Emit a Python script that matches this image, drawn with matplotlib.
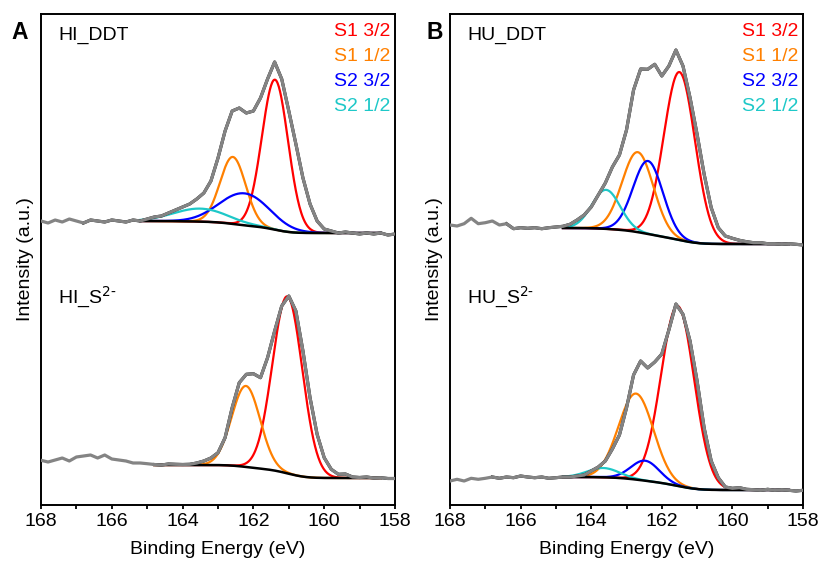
import numpy as np
import matplotlib
matplotlib.use("Agg")
import matplotlib.pyplot as plt
from matplotlib.ticker import MultipleLocator

plt.rcParams['font.family'] = ['Liberation Sans', 'DejaVu Sans']

# binding energy grid of the measured spectra (eV), 168 -> 158 in 0.2 steps
energy = np.linspace(168, 158, 51)

hi_ddt_raw = [284, 282, 285, 283, 286, 284, 282, 285, 284, 283,
              285, 284, 283, 285, 284, 286, 288, 289, 292, 295,
              298, 301, 306, 312, 324, 347, 374, 394, 397, 392,
              394, 407, 426, 443, 426, 394, 361, 327, 301, 284,
              276, 274, 272, 273, 272, 271, 272, 271, 272, 270, 271]
hi_s2_raw = [44.7, 43, 45, 47, 44, 48, 49, 50, 47, 50,
             46, 45, 44, 42, 42, 41.3, 40.5, 40, 41, 40.7,
             40.5, 40.7, 42, 44, 47, 52.3, 67.3, 97.3, 122.3, 130.7,
             131.3, 127.3, 147.3, 174, 199, 209, 194, 154, 107.3, 70.7,
             47.3, 35.7, 30.7, 31, 28, 27.5, 28, 27, 27.3, 26.5, 26.5]
hu_ddt_raw = [280, 279, 281.3, 286.7, 281.3, 282.3, 284, 280, 281.3, 276.3,
              277.3, 276.7, 277.3, 276.3, 277.3, 278, 278.7, 280.7, 285, 290,
              298, 310, 322, 338, 350, 375, 415, 436, 435.7, 440.7,
              429, 439, 455, 439, 407.3, 370.7, 330.7, 297.3, 277.3, 269,
              266.7, 264.7, 263.3, 262.3, 262.3, 261.3, 261.3, 260.7, 261.3, 260.7, 260]
hu_s2_raw = [24, 25.7, 24, 26.7, 25.7, 26.7, 28, 26.7, 28, 27.3,
             29, 28, 27.3, 28, 26.7, 27.3, 28, 28, 29, 30,
             34, 38, 44, 56, 70, 97, 130, 144, 137, 143,
             151, 175, 201, 190.7, 164, 124, 77, 44, 27.3, 18,
             16.7, 17.3, 15.7, 15.3, 14.7, 15.7, 14.7, 15.3, 14.7, 14, 14.7]

# fitted components: centre (eV), height above background, FWHM (eV)
peak_names = ['S1 3/2', 'S1 1/2', 'S2 3/2', 'S2 1/2']
hi_ddt_center = [161.39, 162.58, 162.25, 163.50]
hi_ddt_height = [150, 67, 32, 13]
hi_ddt_fwhm = [0.87, 0.85, 1.65, 1.79]
hi_s2_center = [161.04, 162.21]
hi_s2_height = [177, 81]
hi_s2_fwhm = [0.99, 0.94]
hu_ddt_center = [161.50, 162.68, 162.39, 163.58]
hu_ddt_height = [168, 80, 73, 39]
hu_ddt_fwhm = [1.04, 1.04, 0.99, 0.94]
hu_s2_center = [161.55, 162.73, 162.47, 163.66]
hu_s2_height = [180, 86, 20, 9.3]
hu_s2_fwhm = [1.1, 1.16, 0.94, 1.06]

# Shirley background levels (high BE side, low BE side)
hi_ddt_bg = (284, 272)
hi_s2_bg = (40, 27)
hu_ddt_bg = (277, 261)
hu_s2_bg = (28, 15)

peak_colors = ['#ff0000', '#ff8000', '#0000ff', '#1ec8c8']
gray = '#848484'


def draw_spectrum(ax, raw, centers, heights, fwhms, bg, black_from, fit_from):
    raw = np.asarray(raw)
    e = np.linspace(fit_from, 158.4, 400)
    comps = []
    for c, h, w in zip(centers, heights, fwhms):
        s = w / 2.3548
        comps.append(h * np.exp(-0.5 * ((e - c) / s) ** 2))
    total = np.sum(comps, axis=0)
    below = np.cumsum(total[::-1])[::-1]
    back = bg[1] + (bg[0] - bg[1]) * below / below[0]
    for comp, col in zip(comps, peak_colors):
        ax.plot(e, back + comp, color=col, lw=1.6, zorder=2)
    ax.plot(e, back, color='black', lw=1.8, zorder=3)
    m = energy <= black_from + 1e-6
    ax.plot(energy[m], raw[m], color='black', lw=2.2, zorder=4)
    ax.plot(energy, raw, color=gray, lw=2.3, zorder=5)


fig = plt.figure(figsize=(8.21, 5.67), dpi=100)
axA = fig.add_axes([41 / 821, 62 / 567, 354 / 821, 491 / 567])
axB = fig.add_axes([450 / 821, 62 / 567, 353 / 821, 491 / 567])

draw_spectrum(axA, hi_ddt_raw, hi_ddt_center, hi_ddt_height, hi_ddt_fwhm,
              hi_ddt_bg, 166.8, 165.2)
draw_spectrum(axA, hi_s2_raw, hi_s2_center, hi_s2_height, hi_s2_fwhm,
              hi_s2_bg, 164.8, 164.8)
draw_spectrum(axB, hu_ddt_raw, hu_ddt_center, hu_ddt_height, hu_ddt_fwhm,
              hu_ddt_bg, 166.4, 164.8)
draw_spectrum(axB, hu_s2_raw, hu_s2_center, hu_s2_height, hu_s2_fwhm,
              hu_s2_bg, 166.8, 164.8)

for ax, letter, lx, top, bottom in [
        (axA, 'A', -0.059, 'HI_DDT', 'HI_S$^{2\\text{-}}$'),
        (axB, 'B', -0.044, 'HU_DDT', 'HU_S$^{2\\text{-}}$')]:
    ax.set_xlim(168, 158)
    ax.set_ylim(0, 491)
    ax.set_yticks([])
    ax.xaxis.set_major_locator(MultipleLocator(2))
    ax.xaxis.set_minor_locator(MultipleLocator(1))
    ax.tick_params(axis='x', which='both', direction='out', length=3,
                   width=1.3, labelsize=14, pad=3)
    for sp in ax.spines.values():
        sp.set_linewidth(1.4)
    ax.set_xlabel('Binding Energy (eV)', fontsize=14, labelpad=8)
    ax.set_ylabel('Intensity (a.u.)', fontsize=14, labelpad=5)
    ax.text(0.048, 0.957, top, transform=ax.transAxes, fontsize=14,
            va='center', ha='left')
    ax.text(0.048, 0.423, bottom, transform=ax.transAxes, fontsize=14,
            va='center', ha='left')
    ax.text(lx, 0.962, letter, transform=ax.transAxes, fontsize=16.5,
            fontweight='bold', va='center', ha='center')
    for i, (name, col) in enumerate(zip(peak_names, peak_colors)):
        ax.text(0.986, 0.964 - i * 0.051, name, transform=ax.transAxes,
                fontsize=14, color=col, va='center', ha='right')

fig.savefig('out.png', dpi=100)
